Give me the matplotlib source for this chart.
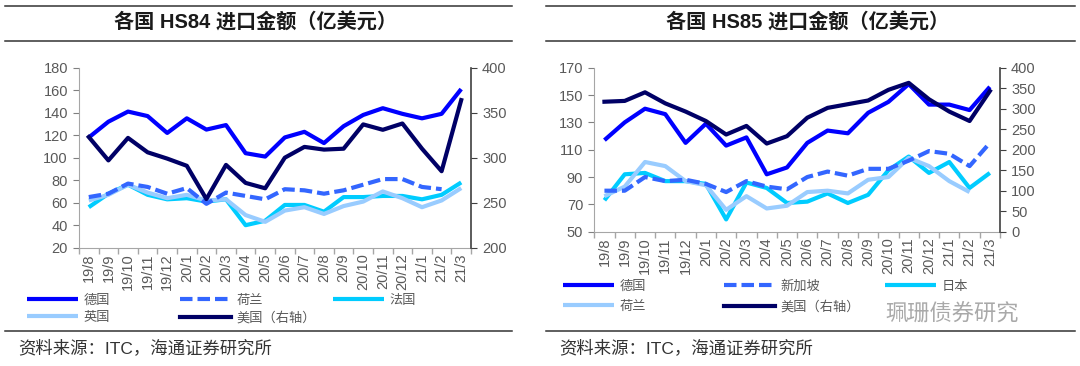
import numpy as np
import matplotlib
matplotlib.use("Agg")
import matplotlib.pyplot as plt
from matplotlib.lines import Line2D
from matplotlib.ticker import FixedLocator

plt.rcParams["font.family"] = ["Liberation Sans", "Noto Sans CJK SC", "DejaVu Sans"]
plt.rcParams["axes.unicode_minus"] = False

months = ["19/8", "19/9", "19/10", "19/11", "19/12", "20/1", "20/2", "20/3", "20/4",
          "20/5", "20/6", "20/7", "20/8", "20/9", "20/10", "20/11", "20/12", "21/1",
          "21/2", "21/3"]
nan = np.nan

# HS84 (left axis except US)
de84 = [118, 132, 141, 137, 122, 135, 125, 129, 104, 101, 118, 123, 113, 128, 138, 144, 139, 135, 139, 161]
nl84 = [65, 68, 77, 74, 68, 73, 59, 69, 66, 63, 72, 71, 68, 71, 76, 81, 81, 74, 72, nan]
fr84 = [56, 68, 76, 67, 63, 64, 61, 63, 40, 44, 58, 58, 52, 65, 65, 66, 66, 63, 67, 78]
uk84 = [62, 67, 76, 69, 64, 67, 62, 63, 49, 43, 53, 56, 50, 57, 61, 70, 64, 56, 62, 73]
us84 = [323, 297, 322, 306, 299, 291, 254, 292, 272, 266, 300, 312, 309, 310, 337, 331, 338, 310, 285, 364]

# HS85 (left axis except US)
de85 = [117, 130, 140, 136, 115, 129, 113, 119, 92, 97, 115, 124, 122, 137, 145, 158, 143, 143, 139, 156]
sg85 = [80, 80, 90, 87, 88, 85, 79, 87, 83, 81, 90, 94, 91, 96, 96, 102, 109, 107, 98, 115]
jp85 = [73, 92, 93, 87, 87, 85, 59, 86, 82, 71, 72, 78, 71, 77, 95, 105, 93, 101, 82, 93]
nl85 = [76, 83, 101, 98, 87, 84, 66, 76, 67, 69, 79, 80, 78, 88, 90, 104, 98, 87, 79, nan]
us85 = [317, 319, 340, 313, 293, 270, 237, 258, 215, 233, 278, 302, 311, 320, 346, 363, 323, 293, 270, 343]

BLUE, DASH, CYAN, LIGHT, NAVY = "#0000FF", "#3366FF", "#00CCFF", "#99CCFF", "#000066"
GREY = "#595959"
W, H = 1080, 366

fig = plt.figure(figsize=(W / 100, H / 100), dpi=100)


def fx(px):
    return px / W


def fy(py):
    return 1 - py / H


def panel(x0, x1, y0, y1, left_lim, left_step, right_lim, right_step, series, us):
    ax = fig.add_axes([fx(x0), fy(y1), fx(x1 - x0), (y1 - y0) / H])
    ax2 = ax.twinx()
    x = np.arange(len(months))
    handles = {}
    for name, vals, color, ls in series:
        ln, = ax.plot(x, vals, color=color, lw=3, ls=ls, solid_capstyle="butt")
        if ls == "--":
            ln.set_dashes((3, 1.2))
        handles[name] = ln
    ln, = ax2.plot(x, us, color=NAVY, lw=3)
    handles["US"] = ln

    ax.set_xlim(-0.5, len(months) - 0.5)
    ax.set_ylim(*left_lim)
    ax2.set_ylim(*right_lim)
    ax.set_yticks(np.arange(left_lim[0], left_lim[1] + 1, left_step))
    ax2.set_yticks(np.arange(right_lim[0], right_lim[1] + 1, right_step))
    ax.set_xticks(x)
    ax.set_xticklabels(months, rotation=90, fontsize=10.5, color=GREY)
    ax.xaxis.set_minor_locator(FixedLocator(np.arange(-0.5, len(months), 1)))
    ax.tick_params(axis="x", which="major", length=0, pad=4)
    ax.tick_params(axis="x", which="minor", length=4, color="#A6A6A6", width=1)
    ax.tick_params(axis="y", length=4, color="#808080", labelsize=10.5, labelcolor=GREY, pad=4)
    ax2.tick_params(axis="y", length=4, color="#404040", labelsize=10.5, labelcolor=GREY, pad=4)
    for a in (ax, ax2):
        a.spines["top"].set_visible(False)
        a.patch.set_visible(False)
    ax.spines["left"].set_color("#A6A6A6")
    ax.spines["bottom"].set_color("#A6A6A6")
    ax.spines["right"].set_visible(False)
    ax2.spines["left"].set_visible(False)
    ax2.spines["bottom"].set_visible(False)
    ax2.spines["right"].set_color("#404040")
    ax2.spines["right"].set_linewidth(1.2)
    return handles


def legend_col(items, px, py, spacing):
    fig.legend([h for h, _ in items], [t for _, t in items], loc="upper left",
               bbox_to_anchor=(fx(px), fy(py)), frameon=False, borderpad=0,
               borderaxespad=0, fontsize=9.5, handlelength=3.9, handletextpad=0.4,
               labelspacing=spacing, labelcolor=GREY)


def frame(x0, x1, title):
    for yy in (5.5, 40.5, 331):
        fig.add_artist(Line2D([fx(x0), fx(x1)], [fy(yy), fy(yy)], color="#333333", lw=1.1))
    fig.text(fx((x0 + x1) / 2 - 3), fy(22.5), title, ha="center", va="center",
             fontsize=14.5, fontweight="bold", color="#1a1a1a")
    fig.text(fx(x0 + 13), fy(348), "资料来源：ITC，海通证券研究所", ha="left", va="center",
             fontsize=12.5, color="#333333")


# ---- left panel: HS84 ----
frame(5, 512, "各国 HS84 进口金额（亿美元）")
h84 = panel(79, 471, 67.7, 247.7, (20, 180), 20, (200, 400), 50,
            [("德国", de84, BLUE, "-"), ("法国", fr84, CYAN, "-"),
             ("英国", uk84, LIGHT, "-"), ("荷兰", nl84, DASH, "--")], us84)
legend_col([(h84["德国"], "德国"), (h84["英国"], "英国")], 27, 294.5, 0.35)
legend_col([(h84["荷兰"], "荷兰"), (h84["US"], "美国（右轴）")], 180, 294.5, 0.35)
legend_col([(h84["法国"], "法国")], 333, 294.5, 0.35)

# ---- right panel: HS85 ----
frame(546, 1075, "各国 HS85 进口金额（亿美元）")
h85 = panel(594.3, 1000, 67.7, 231.7, (50, 170), 20, (0, 400), 50,
            [("德国", de85, BLUE, "-"), ("日本", jp85, CYAN, "-"),
             ("荷兰", nl85, LIGHT, "-"), ("新加坡", sg85, DASH, "--")], us85)
legend_col([(h85["德国"], "德国"), (h85["荷兰"], "荷兰")], 563, 280.5, 0.6)
legend_col([(h85["新加坡"], "新加坡"), (h85["US"], "美国（右轴）")], 724, 280.5, 0.6)
legend_col([(h85["日本"], "日本")], 885, 280.5, 0.6)

# watermark
fig.text(fx(885), fy(315), "珮珊债券研究", ha="left", va="center", fontsize=16,
         color="#a0a0a0", alpha=0.9)

fig.savefig("out.png", dpi=100)
